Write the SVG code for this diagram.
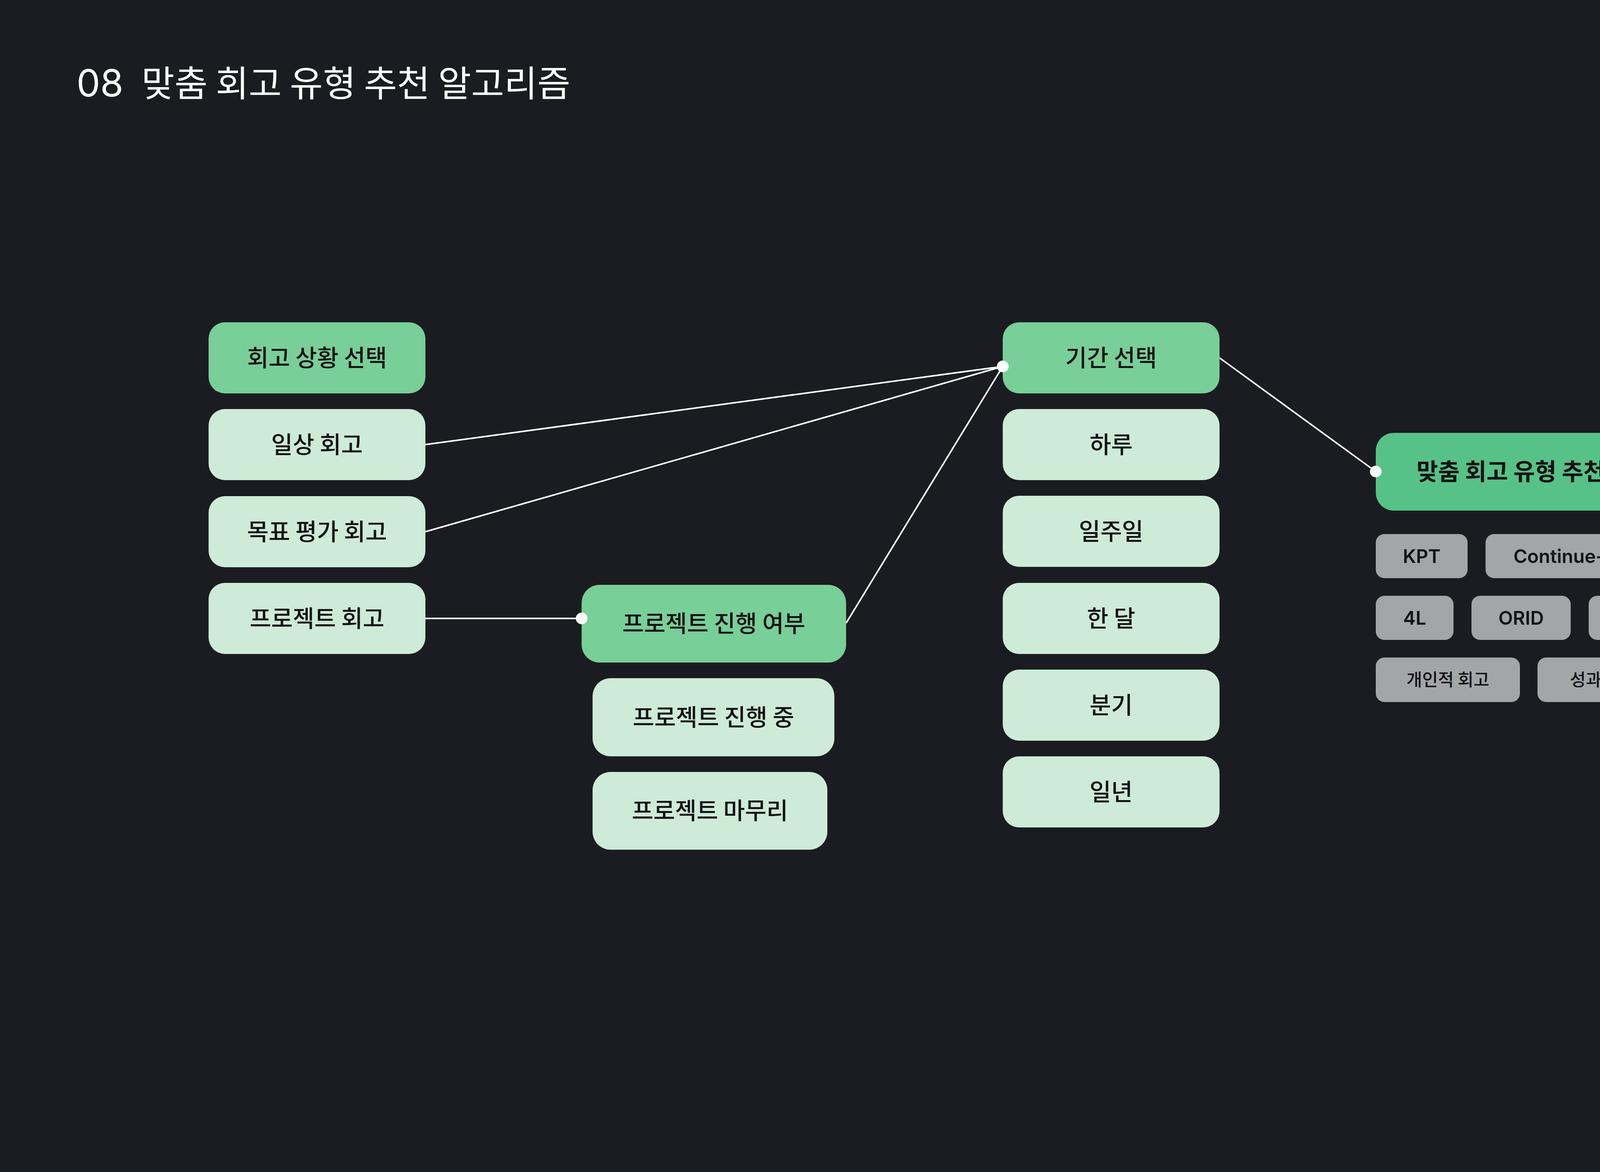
<svg xmlns="http://www.w3.org/2000/svg" width="5334" height="3000" viewBox="0 0 5334 3000">
<style>
.hdr{fill:#79CF98}
.opt{fill:#CDEBD6}
.res{fill:#57C287}
.tag{fill:#A4A5A9}
.kt{font-family:"Noto Sans CJK KR","Noto Sans",sans-serif;fill:#111214;text-anchor:middle}
.nt{font-size:60px;font-weight:500}
.bt{font-size:60px;font-weight:700}
.lt{font-family:Inter,"Noto Sans",sans-serif;font-size:48px;font-weight:600;fill:#111214;text-anchor:middle}
.kg{font-size:44px;font-weight:500}
.conn{stroke:#FFFFFF;stroke-width:4;fill:none}
.dot{fill:#FFFFFF}
</style>
<rect x="0" y="0" width="5334" height="3000" fill="#1B1C21"/>
<text x="196" y="247" font-family="Inter,'Noto Sans CJK KR',sans-serif" font-size="96" font-weight="400" fill="#FFFFFF">08 <tspan x="362" font-family="'Noto Sans CJK KR',sans-serif" font-size="92">맞춤 회고 유형 추천 알고리즘</tspan></text>

<g id="connectors">
<path class="conn" d="M1089 1138 L2567 938"/>
<path class="conn" d="M1089 1361 L2567 938"/>
<path class="conn" d="M1089 1583 L1489 1583"/>
<path class="conn" d="M2166 1595 L2567 938"/>
<path class="conn" d="M3122 916 L3522 1207"/>
</g>

<g id="n-situation"><rect class="hdr" x="534" y="825" width="555" height="182" rx="42"/><text class="kt nt" x="811.5" y="938">회고 상황 선택</text></g>
<g id="n-daily"><rect class="opt" x="534" y="1047" width="555" height="182" rx="42"/><text class="kt nt" x="811.5" y="1160">일상 회고</text></g>
<g id="n-goal"><rect class="opt" x="534" y="1270" width="555" height="182" rx="42"/><text class="kt nt" x="811.5" y="1383">목표 평가 회고</text></g>
<g id="n-project"><rect class="opt" x="534" y="1492" width="555" height="182" rx="42"/><text class="kt nt" x="811.5" y="1605">프로젝트 회고</text></g>

<g id="n-progress"><rect class="hdr" x="1489" y="1497" width="677" height="199" rx="46"/><text class="kt nt" x="1827.5" y="1618">프로젝트 진행 여부</text></g>
<g id="n-ongoing"><rect class="opt" x="1517" y="1736" width="619" height="200" rx="46"/><text class="kt nt" x="1826.5" y="1858">프로젝트 진행 중</text></g>
<g id="n-finish"><rect class="opt" x="1517" y="1976" width="601" height="199" rx="46"/><text class="kt nt" x="1817.5" y="2097">프로젝트 마무리</text></g>

<g id="n-period"><rect class="hdr" x="2567" y="825" width="555" height="182" rx="42"/><text class="kt nt" x="2844.5" y="938">기간 선택</text></g>
<g id="n-day"><rect class="opt" x="2567" y="1047" width="555" height="182" rx="42"/><text class="kt nt" x="2844.5" y="1160">하루</text></g>
<g id="n-week"><rect class="opt" x="2567" y="1269" width="555" height="182" rx="42"/><text class="kt nt" x="2844.5" y="1382">일주일</text></g>
<g id="n-month"><rect class="opt" x="2567" y="1492" width="555" height="182" rx="42"/><text class="kt nt" x="2844.5" y="1605">한 달</text></g>
<g id="n-quarter"><rect class="opt" x="2567" y="1714" width="555" height="182" rx="42"/><text class="kt nt" x="2844.5" y="1827">분기</text></g>
<g id="n-year"><rect class="opt" x="2567" y="1936" width="555" height="182" rx="42"/><text class="kt nt" x="2844.5" y="2049">일년</text></g>

<g id="n-result"><rect class="res" x="3522" y="1108" width="691" height="199" rx="46"/><text class="kt bt" x="3867.5" y="1229">맞춤 회고 유형 추천</text></g>

<g id="t-kpt"><rect class="tag" x="3522" y="1367" width="235" height="113" rx="22"/><text class="lt" x="3639.5" y="1441">KPT</text></g>
<g id="t-css"><rect class="tag" x="3803" y="1367" width="618" height="113" rx="22"/><text class="lt" x="4112" y="1441">Continue-Stop-Start</text></g>
<g id="t-5f"><rect class="tag" x="4467" y="1367" width="198" height="113" rx="22"/><text class="lt" x="4566" y="1441">5F</text></g>
<g id="t-til"><rect class="tag" x="4712" y="1367" width="209" height="113" rx="22"/><text class="lt" x="4816.5" y="1441">TIL</text></g>
<g id="t-4l"><rect class="tag" x="3522" y="1525" width="199" height="113" rx="22"/><text class="lt" x="3621.5" y="1599">4L</text></g>
<g id="t-orid"><rect class="tag" x="3767" y="1525" width="254" height="113" rx="22"/><text class="lt" x="3894" y="1599">ORID</text></g>
<g id="t-aar"><rect class="tag" x="4067" y="1525" width="240" height="113" rx="22"/><text class="lt" x="4187" y="1599">AAR</text></g>
<g id="t-ywt"><rect class="tag" x="4353" y="1525" width="254" height="113" rx="22"/><text class="lt" x="4480" y="1599">YWT</text></g>
<g id="t-personal"><rect class="tag" x="3522" y="1683" width="369" height="114" rx="22"/><text class="kt kg" x="3706.5" y="1756">개인적 회고</text></g>
<g id="t-metric"><rect class="tag" x="3936" y="1683" width="527" height="114" rx="22"/><text class="kt kg" x="4199.5" y="1756">성과/수치 중심 회고</text></g>

<g id="dots">
<circle class="dot" cx="2567" cy="938" r="15"/>
<circle class="dot" cx="1489" cy="1583" r="15"/>
<circle class="dot" cx="3522" cy="1207" r="15"/>
</g>

<text x="5110" y="2831" font-family="Inter,'Noto Sans',sans-serif" font-size="54" font-weight="300" fill="#9FA0A4" text-anchor="middle">10</text>
</svg>
